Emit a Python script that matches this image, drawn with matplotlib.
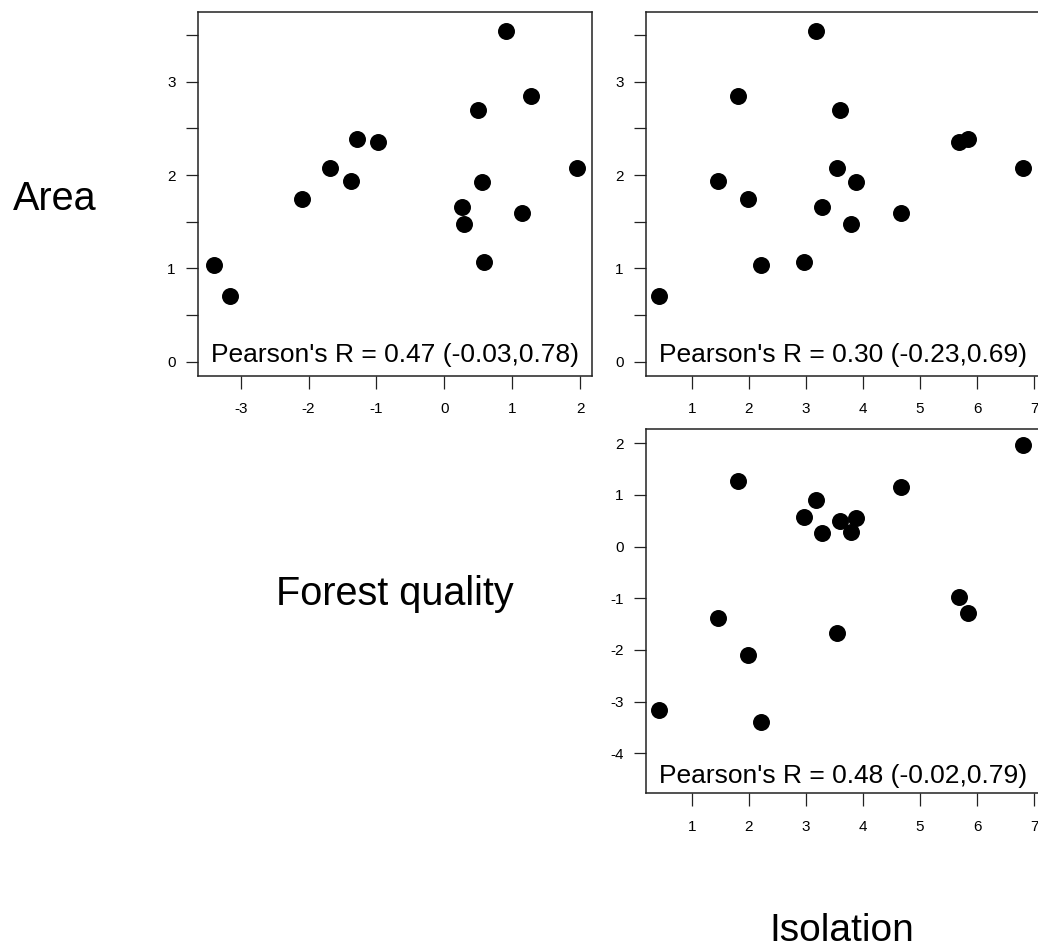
import numpy as np
import matplotlib
matplotlib.use("Agg")
import matplotlib.pyplot as plt

plt.rcParams['font.family'] = ['Liberation Sans', 'DejaVu Sans']
plt.rcParams['axes.unicode_minus'] = False

# data (one value per site)
forest = [-3.40, -3.16, -2.09, -1.68, -1.38, -1.29, -0.98, 0.26, 0.29, 0.50, 0.56, 0.58, 0.91, 1.15, 1.28, 1.96]
area = [1.04, 0.70, 1.74, 2.08, 1.94, 2.39, 2.35, 1.66, 1.48, 2.70, 1.93, 1.07, 3.54, 1.59, 2.85, 2.08]
isolation = [2.22, 0.43, 1.98, 3.54, 1.46, 5.84, 5.68, 3.28, 3.79, 3.59, 3.88, 2.96, 3.18, 4.67, 1.81, 6.81]

r_text_fa = "Pearson's R = 0.47 (-0.03,0.78)"
r_text_ia = "Pearson's R = 0.30 (-0.23,0.69)"
r_text_if = "Pearson's R = 0.48 (-0.02,0.79)"

area_ticks = [0, 0.5, 1, 1.5, 2, 2.5, 3, 3.5]
area_labels = ["0", "", "1", "", "2", "", "3", ""]
forest_xticks = [-3, -2, -1, 0, 1, 2]
forest_yticks = [-4, -3, -2, -1, 0, 1, 2]
iso_ticks = [1, 2, 3, 4, 5, 6, 7]

W, H = 1038, 948
fig = plt.figure(figsize=(W / 100, H / 100), dpi=100)


def make_ax(left, top, right, bottom):
    return fig.add_axes([left / W, 1 - bottom / H, (right - left) / W, (bottom - top) / H])


def style(ax):
    for s in ax.spines.values():
        s.set_linewidth(1.1)
        s.set_color('#222222')
    ax.tick_params(direction='out', length=9, width=0.9, color='#222222',
                   labelsize=11, pad=10)
    ax.tick_params(axis='y', pad=7)


ax1 = make_ax(197.7, 11.7, 591.7, 376)
ax2 = make_ax(645.7, 11.7, 1039.7, 376)
ax3 = make_ax(645.7, 429.3, 1039.7, 793.3)

ms = 11.2
ax1.plot(forest, area, 'o', color='black', markersize=ms)
ax2.plot(isolation, area, 'o', color='black', markersize=ms)
ax3.plot(isolation, forest, 'o', color='black', markersize=ms)

ax1.set_xlim(-3.634, 2.172)
ax1.set_ylim(-0.153, 3.75)
ax2.set_xlim(0.194, 7.095)
ax2.set_ylim(-0.153, 3.75)
ax3.set_xlim(0.194, 7.095)
ax3.set_ylim(-4.774, 2.271)

ax1.set_xticks(forest_xticks)
ax1.set_yticks(area_ticks, area_labels)
ax2.set_xticks(iso_ticks)
ax2.set_yticks(area_ticks, area_labels)
ax3.set_xticks(iso_ticks)
ax3.set_yticks(forest_yticks)

for ax in (ax1, ax2, ax3):
    style(ax)

ax1.text(0.5, 0.039, r_text_fa, transform=ax1.transAxes, ha='center', va='baseline', fontsize=19)
ax2.text(0.5, 0.039, r_text_ia, transform=ax2.transAxes, ha='center', va='baseline', fontsize=19)
ax3.text(0.5, 0.028, r_text_if, transform=ax3.transAxes, ha='center', va='baseline', fontsize=19)

# variable names on the diagonal
fig.text(55 / W, 1 - 210 / H, "Area", ha='center', va='baseline', fontsize=28.5)
fig.text(394.5 / W, 1 - 605 / H, "Forest quality", ha='center', va='baseline', fontsize=28.5)
fig.text(841.5 / W, 1 - 941 / H, "Isolation", ha='center', va='baseline', fontsize=28)

fig.savefig('out.png', dpi=100)
